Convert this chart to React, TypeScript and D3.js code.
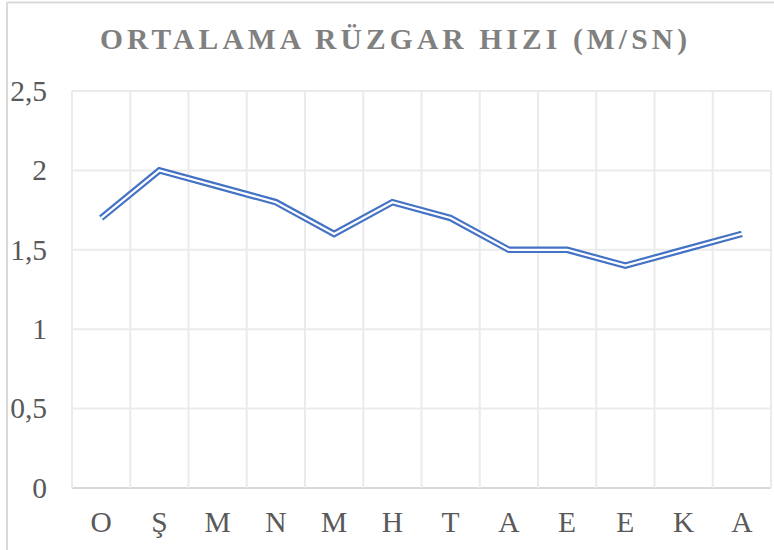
import React from "react";
import * as d3 from "d3";

const categories = ["O", "Ş", "M", "N", "M", "H", "T", "A", "E", "E", "K", "A"];
const values = [1.7, 2.0, 1.9, 1.8, 1.6, 1.8, 1.7, 1.5, 1.5, 1.4, 1.5, 1.6];
const yTicks = [0, 0.5, 1, 1.5, 2, 2.5];
const title = "ORTALAMA RÜZGAR HIZI (M/SN)";

const W = 774;
const H = 550;
const plot = { left: 72, right: 771, top: 91, bottom: 488 };

export default function App() {
  const x = d3
    .scaleBand<number>()
    .domain(categories.map((_, i) => i))
    .range([plot.left, plot.right])
    .paddingInner(0)
    .paddingOuter(0);
  const y = d3.scaleLinear().domain([0, 2.5]).range([plot.bottom, plot.top]);
  const cx = (i: number) => (x(i) as number) + x.bandwidth() / 2;
  const line = d3
    .line<number>()
    .x((_, i) => cx(i))
    .y((d) => y(d));
  const path = line(values) || "";
  const fmt = (v: number) => String(v).replace(".", ",");
  const boundaries = d3.range(categories.length + 1).map((i) =>
    i < categories.length ? (x(i) as number) : plot.right
  );
  const font = "'Liberation Serif', 'Times New Roman', serif";

  return (
    <svg
      width={W}
      height={H}
      style={{ position: "absolute", left: 0, top: 0, display: "block", background: "#fff" }}
    >
      {/* chart border */}
      <line x1={7} y1={2.5} x2={W} y2={2.5} stroke="#d9d9d9" strokeWidth={2} />
      <line x1={7} y1={2.5} x2={7} y2={H} stroke="#d9d9d9" strokeWidth={2} />

      {/* title */}
      <text
        x={100}
        y={49}
        fontFamily={font}
        fontWeight="bold"
        fontSize={29.5}
        fill="#808080"
        textLength={587}
        lengthAdjust="spacing"
      >
        {title}
      </text>

      {/* horizontal gridlines */}
      {yTicks.map((t) => (
        <line
          key={"h" + t}
          x1={plot.left}
          x2={plot.right}
          y1={y(t)}
          y2={y(t)}
          stroke={t === 0 ? "#d9d9d9" : "#ebebeb"}
          strokeWidth={2}
        />
      ))}
      {/* vertical gridlines */}
      {boundaries.map((bx, i) => (
        <line
          key={"v" + i}
          x1={bx}
          x2={bx}
          y1={plot.top}
          y2={plot.bottom}
          stroke="#ebebeb"
          strokeWidth={2}
        />
      ))}

      {/* y tick labels */}
      {yTicks.map((t) => (
        <text
          key={"yl" + t}
          x={47}
          y={y(t) + 9.8}
          textAnchor="end"
          fontFamily={font}
          fontSize={29.5}
          fill="#595959"
        >
          {fmt(t)}
        </text>
      ))}

      {/* x labels */}
      {categories.map((c, i) => (
        <text
          key={"xl" + i}
          x={cx(i)}
          y={531.5}
          textAnchor="middle"
          fontFamily={font}
          fontSize={29.5}
          fill="#595959"
        >
          {c}
        </text>
      ))}

      {/* double line */}
      <path d={path} fill="none" stroke="#4472C4" strokeWidth={6.6} strokeLinejoin="miter" />
      <path d={path} fill="none" stroke="#ffffff" strokeWidth={2.2} strokeLinejoin="miter" />
    </svg>
  );
}
